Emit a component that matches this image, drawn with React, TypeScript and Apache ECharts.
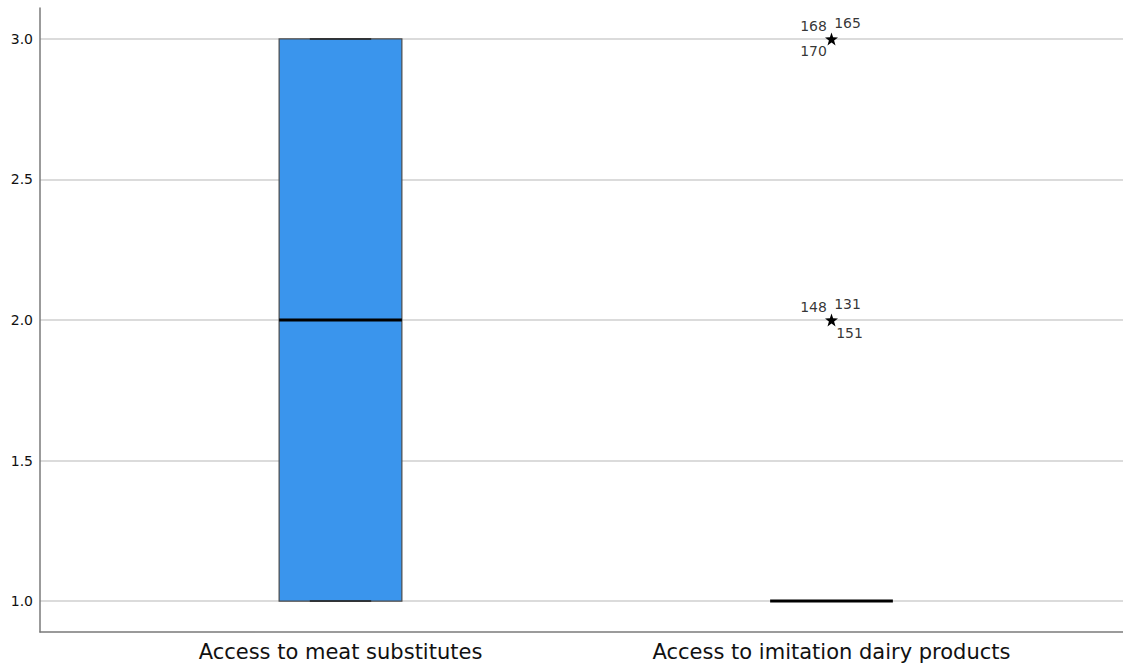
import React, { useEffect, useRef } from "react";
import * as echarts from "echarts";

// Variables shown on the category axis
const categories = ["Access to meat substitutes", "Access to imitation dairy products"];

// Five-number summaries per variable: [lower whisker, Q1, median, Q3, upper whisker]
const boxStats: number[][] = [
  [1, 1, 2, 3, 3],
  [1, 1, 1, 1, 1],
];

// Extreme cases (starred) for the imitation dairy variable, with their case numbers
const extremeCategory = 1;
const extremeValues = [3, 2];
const extremeCases: number[][] = [
  [168, 165, 170],
  [148, 131, 151],
];

// Value axis ticks
const yTicks = [1.0, 1.5, 2.0, 2.5, 3.0];
const yMin = 0.89;
const yMax = 3.11;

const FONT = "DejaVu Sans";
const BOX_FILL = "#3a95ed";
const BOX_EDGE = "#4a4a4a";

// Case-number placements around a star marker: upper-left, upper-right, then below
const caseOffsets: number[][][] = [
  [[-18, -13], [16, -16], [-18, 12]],
  [[-18, -13], [16, -16], [18, 13]],
];

const STAR =
  "path://M0,-10 L2.35,-3.24 L9.51,-3.09 L3.8,1.24 L5.88,8.09 L0,4 L-5.88,8.09 L-3.8,1.24 L-9.51,-3.09 L-2.35,-3.24 Z";

export default function App() {
  const ref = useRef<HTMLDivElement>(null);

  useEffect(() => {
    if (!ref.current) return;
    const chart = echarts.init(ref.current, null, { renderer: "svg" });

    const boxData = boxStats.map((s, i) => [i, ...s]);

    const starData = extremeValues.map((v) => [extremeCategory, v]);

    const caseData: any[] = [];
    extremeCases.forEach((ids, g) => {
      ids.forEach((id, k) => {
        caseData.push({
          value: [extremeCategory, extremeValues[g]],
          name: String(id),
          label: { offset: caseOffsets[g][k] },
        });
      });
    });

    const option: any = {
      animation: false,
      backgroundColor: "#ffffff",
      grid: [
        { left: 95, right: 46, top: 8, bottom: 34 },
        { left: 40, right: 0, top: 8, bottom: 34 },
      ],
      xAxis: [
        {
          gridIndex: 0,
          type: "category",
          data: categories,
          boundaryGap: true,
          axisLine: { show: false },
          axisTick: { show: false },
          axisLabel: { fontFamily: FONT, fontSize: 21, color: "#111", margin: 9 },
          splitLine: { show: false },
        },
        {
          gridIndex: 1,
          type: "value",
          min: 0,
          max: 1,
          axisLine: { show: true, lineStyle: { color: "#7a7a7a", width: 1.5 } },
          axisTick: { show: false },
          axisLabel: { show: false },
          splitLine: { show: false },
        },
      ],
      yAxis: [
        {
          gridIndex: 0,
          type: "value",
          min: yMin,
          max: yMax,
          show: false,
        },
        {
          gridIndex: 1,
          type: "value",
          min: yMin,
          max: yMax,
          axisLine: { show: true, lineStyle: { color: "#7a7a7a", width: 1.5 } },
          axisTick: { show: false, customValues: yTicks },
          axisLabel: {
            customValues: yTicks,
            formatter: (v: number) => v.toFixed(1),
            fontFamily: FONT,
            fontSize: 14,
            color: "#111",
            margin: 7,
          },
          splitLine: { show: true, lineStyle: { color: "#cfcfcf", width: 1.5 } },
        },
      ],
      series: [
        {
          type: "custom",
          xAxisIndex: 0,
          yAxisIndex: 0,
          data: boxData,
          encode: { x: 0, y: [1, 2, 3, 4, 5] },
          renderItem: (params: any, api: any) => {
            const idx = api.value(0);
            const lo = api.value(1);
            const q1 = api.value(2);
            const med = api.value(3);
            const q3 = api.value(4);
            const hi = api.value(5);
            const band = api.size([1, 0])[0];
            const half = band * 0.125;
            const capHalf = half / 2;
            const cx = api.coord([idx, med])[0];
            const yLo = api.coord([idx, lo])[1];
            const yQ1 = api.coord([idx, q1])[1];
            const yMed = api.coord([idx, med])[1];
            const yQ3 = api.coord([idx, q3])[1];
            const yHi = api.coord([idx, hi])[1];
            const edge = { stroke: BOX_EDGE, lineWidth: 1 };
            const children: any[] = [];
            // whisker stems
            if (yHi < yQ3)
              children.push({ type: "line", shape: { x1: cx, y1: yHi, x2: cx, y2: yQ3 }, style: edge });
            if (yLo > yQ1)
              children.push({ type: "line", shape: { x1: cx, y1: yQ1, x2: cx, y2: yLo }, style: edge });
            // box body
            if (yQ1 - yQ3 > 0.5)
              children.push({
                type: "rect",
                shape: { x: cx - half, y: yQ3, width: half * 2, height: yQ1 - yQ3 },
                style: { fill: BOX_FILL, stroke: BOX_EDGE, lineWidth: 1.2 },
              });
            // whisker caps
            children.push({
              type: "line",
              shape: { x1: cx - capHalf, y1: yHi, x2: cx + capHalf, y2: yHi },
              style: { stroke: "#222", lineWidth: 1.5 },
            });
            children.push({
              type: "line",
              shape: { x1: cx - capHalf, y1: yLo, x2: cx + capHalf, y2: yLo },
              style: { stroke: "#222", lineWidth: 1.5 },
            });
            // median
            children.push({
              type: "line",
              shape: { x1: cx - half, y1: yMed, x2: cx + half, y2: yMed },
              style: { stroke: "#000", lineWidth: 3 },
            });
            return { type: "group", children };
          },
          z: 3,
        },
        {
          type: "scatter",
          xAxisIndex: 0,
          yAxisIndex: 0,
          data: starData,
          symbol: STAR,
          symbolSize: 13,
          itemStyle: { color: "#000", opacity: 1 },
          z: 4,
        },
        {
          type: "scatter",
          xAxisIndex: 0,
          yAxisIndex: 0,
          data: caseData,
          symbolSize: 0,
          itemStyle: { color: "transparent" },
          label: {
            show: true,
            position: "inside",
            formatter: "{b}",
            fontFamily: FONT,
            fontSize: 14,
            color: "#000",
            align: "center",
            verticalAlign: "middle",
          },
          z: 5,
        },
      ],
    };

    chart.setOption(option);
    return () => chart.dispose();
  }, []);

  return (
    <div
      ref={ref}
      style={{ position: "fixed", left: 0, top: 0, width: 1123, height: 666, background: "#fff" }}
    />
  );
}
